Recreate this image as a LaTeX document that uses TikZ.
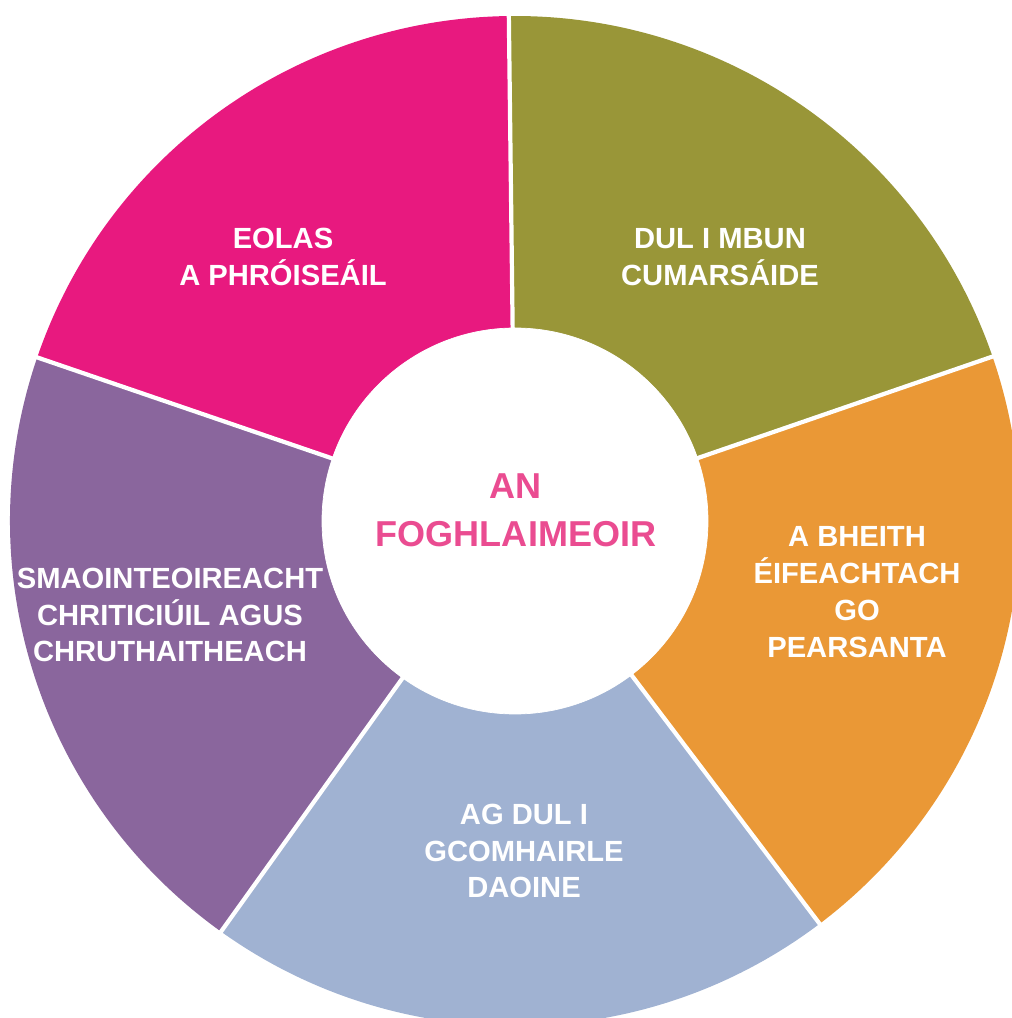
\documentclass[tikz,border=0pt]{standalone}
\usepackage{fontspec}
\setmainfont{Liberation Sans}
\definecolor{segpink}{HTML}{E8197F}
\definecolor{segolive}{HTML}{999638}
\definecolor{segorange}{HTML}{EA9836}
\definecolor{segblue}{HTML}{A0B2D2}
\definecolor{segpurple}{HTML}{8A669D}
\definecolor{hubtext}{HTML}{EA4C91}
\begin{document}
\begin{tikzpicture}[
    segtext/.style={text=white, align=center, font=\bfseries\fontsize{16.6}{21}\selectfont},
    hubtext/.style={text=hubtext, align=center, font=\bfseries\fontsize{20.5}{27.3}\selectfont},
    gap/.style={white, line width=2.4pt}]
        \useasboundingbox (-10.3,-9.94) rectangle (9.92,10.42);

        \fill[segolive] (0,0) -- (19:10.1) arc (19:90.7:10.1) -- cycle;
        \fill[segpink] (0,0) -- (90.7:10.1) arc (90.7:161.1:10.1) -- cycle;
        \fill[segpurple] (0,0) -- (161.1:10.1) arc (161.1:234.4:10.1) -- cycle;
        \fill[segblue] (0,0) -- (234.4:10.1) arc (234.4:307.1:10.1) -- cycle;
        \fill[segorange] (0,0) -- (307.1:10.1) arc (307.1:379:10.1) -- cycle;

        \draw[gap] (0,0) -- (19:10.15);
        \draw[gap] (0,0) -- (90.7:10.15);
        \draw[gap] (0,0) -- (161.1:10.15);
        \draw[gap] (0,0) -- (234.4:10.15);
        \draw[gap] (0,0) -- (307.1:10.15);

        \filldraw[white] (0,0) circle (3.86);

        \node[hubtext] (hub) at (0.02,0.22) {AN\\FOGHLAIMEOIR};
        \node[segtext] (eolas) at (-4.64,5.28) {EOLAS\\A PHRÓISEÁIL};
        \node[segtext] (cumarsaid) at (4.10,5.28) {DUL I MBUN\\CUMARSÁIDE};
        \node[segtext] (pearsanta) at (6.84,-1.42) {A BHEITH\\ÉIFEACHTACH\\GO\\PEARSANTA};
        \node[segtext] (comhairle) at (0.18,-6.6) {AG DUL I\\GCOMHAIRLE\\DAOINE};
        \node[segtext] (smaoint) at (-6.9,-1.88) {SMAOINTEOIREACHT\\CHRITICIÚIL AGUS\\CHRUTHAITHEACH};
    \end{tikzpicture}
\end{document}
